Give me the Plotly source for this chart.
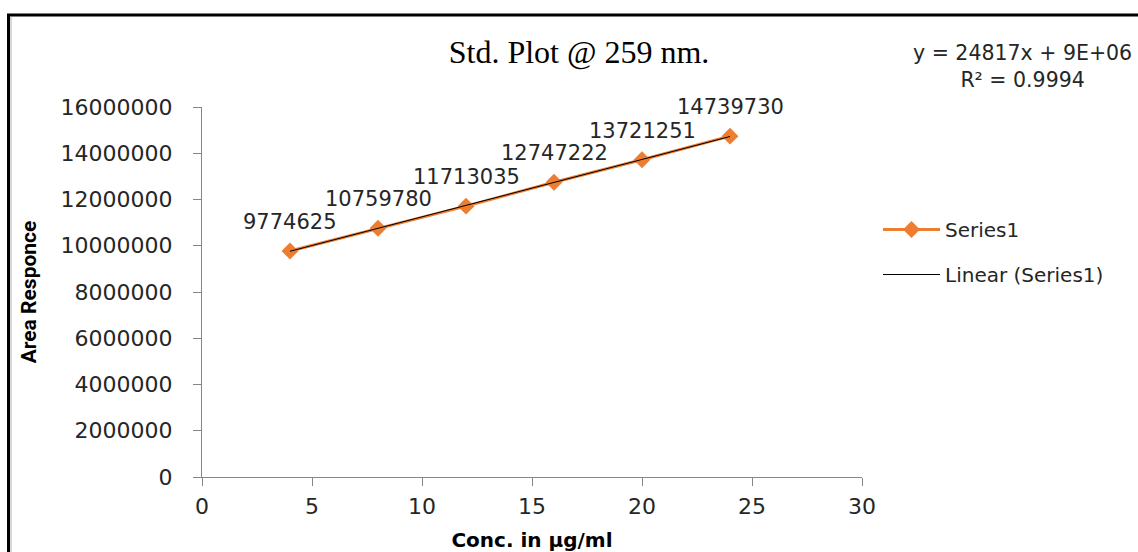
import numpy as np
import plotly.graph_objects as go

conc = [4, 8, 12, 16, 20, 24]
area = [9774625, 10759780, 11713035, 12747222, 13721251, 14739730]
x_ticks = [0, 5, 10, 15, 20, 25, 30]
y_ticks = [0, 2000000, 4000000, 6000000, 8000000, 10000000, 12000000, 14000000, 16000000]
eq_text = "y = 24817x + 9E+06<br>R² = 0.9994"

slope, intercept = np.polyfit(conc, area, 1)
fit_x = [min(conc), max(conc)]
fit_y = [slope * v + intercept for v in fit_x]

W, H = 1138, 552
L, R, T, B = 202, 276, 107, 75
pw, ph = W - L - R, H - T - B

def px(xp):
    return (xp - L) / pw

def py(yp):
    return (H - B - yp) / ph

fig = go.Figure()
fig.add_trace(go.Scatter(
    x=conc, y=area, mode="lines+markers", name="Series1",
    line=dict(color="#ED7D31", width=3),
    marker=dict(symbol="diamond", size=13, color="#ED7D31"),
    legendgroup="a",
))
fig.add_trace(go.Scatter(
    x=fit_x, y=fit_y, mode="lines", name="Linear (Series1)",
    line=dict(color="#000000", width=1),
    legendgroup="b",
))

for xv, yv in zip(conc, area):
    fig.add_annotation(x=xv, y=yv, text=str(yv), showarrow=False,
                       yshift=29, xanchor="center", yanchor="middle",
                       font=dict(family="DejaVu Sans", size=21, color="#262626"))

fig.add_annotation(xref="paper", yref="paper", x=px(1022), y=py(66),
                   text=eq_text, showarrow=False, align="center",
                   xanchor="center", yanchor="middle",
                   font=dict(family="DejaVu Sans", size=20.5, color="#262626"))

axis_common = dict(showgrid=False, zeroline=False, showline=True,
                   linecolor="#868686", linewidth=1, ticks="outside",
                   tickcolor="#868686", ticklen=8, tickwidth=1, automargin=False,
                   tickfont=dict(family="DejaVu Sans", size=22, color="#262626"))

fig.update_xaxes(range=[0, 30], tickvals=x_ticks, ticklabelstandoff=2,
                 title=dict(text="<b>Conc. in µg/ml</b>", standoff=20,
                            font=dict(family="DejaVu Sans", size=20, color="#000000")),
                 **axis_common)
fig.update_yaxes(range=[0, 16000000], tickvals=y_ticks,
                 ticktext=[str(v) for v in y_ticks], ticklabelstandoff=16,
                 title=dict(text="<b>Area Responce</b>", standoff=18,
                            font=dict(family="Roboto", size=21, color="#000000")),
                 **axis_common)

# outer frame (top and left edges visible; extends beyond the picture)
fig.add_shape(type="rect", xref="paper", yref="paper",
              x0=px(8.5), x1=px(1160), y0=py(580), y1=py(15),
              line=dict(color="#000000", width=3), layer="below")
fig.add_shape(type="line", xref="paper", yref="paper",
              x0=px(11), x1=px(11), y0=py(580), y1=py(17),
              line=dict(color="#B0B0B0", width=1), layer="below")

fig.update_layout(
    width=W, height=H,
    margin=dict(l=L, r=R, t=T, b=B, autoexpand=False),
    paper_bgcolor="white", plot_bgcolor="white",
    title=dict(text="Std. Plot @ 259 nm.", xref="container", yref="container",
               x=579 / W, y=1 - 52 / H, xanchor="center", yanchor="middle",
               font=dict(family="Liberation Serif", size=32, color="#000000")),
    legend=dict(x=px(878), y=py(210), xanchor="left", yanchor="top",
                font=dict(family="DejaVu Sans", size=20, color="#262626"),
                itemwidth=57, tracegroupgap=16, traceorder="grouped",
                bgcolor="rgba(0,0,0,0)"),
    showlegend=True,
)

fig.write_html("out.html")
